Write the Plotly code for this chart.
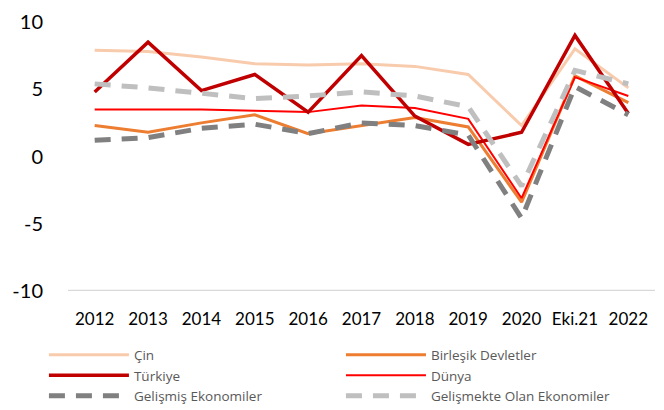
import plotly.graph_objects as go

# --- data ---
years = ["2012", "2013", "2014", "2015", "2016", "2017", "2018", "2019", "2020", "Eki.21", "2022"]

cin = [7.9, 7.8, 7.4, 6.9, 6.8, 6.9, 6.7, 6.1, 2.3, 8.0, 5.1]
abd = [2.3, 1.8, 2.5, 3.1, 1.7, 2.3, 2.9, 2.2, -3.4, 6.0, 4.0]
turkiye = [4.8, 8.5, 4.9, 6.1, 3.3, 7.5, 3.0, 0.9, 1.8, 9.0, 3.2]
dunya = [3.5, 3.5, 3.5, 3.4, 3.3, 3.8, 3.6, 2.8, -3.1, 5.9, 4.5]
gelismis = [1.2, 1.4, 2.1, 2.4, 1.7, 2.5, 2.3, 1.6, -4.6, 5.2, 3.1]
gelismekte = [5.4, 5.1, 4.7, 4.3, 4.5, 4.8, 4.5, 3.7, -2.2, 6.4, 5.4]

y_ticks = [-10, -5, 0, 5, 10]
y_labels = ["-10", "-5", "0", "5", "10"]

series = [
    # name, values, colour, width, dash, legend column, rank
    ("Çin", cin, "#F8CBAD", 3, "solid", "legend", 1),
    ("Birleşik Devletler", abd, "#ED7D31", 3, "solid", "legend2", 1),
    ("Dünya", dunya, "#FF0000", 2, "solid", "legend2", 2),
    ("Türkiye", turkiye, "#C00000", 3.5, "solid", "legend", 2),
    ("Gelişmiş Ekonomiler", gelismis, "#808080", 5, "16px,11px", "legend", 3),
    ("Gelişmekte Olan Ekonomiler", gelismekte, "#BFBFBF", 5, "16px,11px", "legend2", 3),
]

fig = go.Figure()
for name, vals, color, width, dash, leg, rank in series:
    fig.add_trace(go.Scatter(
        x=years, y=vals, name=name, mode="lines",
        line=dict(color=color, width=width, dash=dash),
        legend=leg, legendrank=rank,
    ))

fig.update_xaxes(
    type="category", range=[-0.5, 10.5],
    showgrid=False, showline=False, zeroline=False,
    ticks="", ticklabelstandoff=16,
    tickfont=dict(family="Lato", size=17, color="#000000"),
)
fig.update_yaxes(
    range=[-10, 10], tickvals=y_ticks, ticktext=y_labels,
    showgrid=False, zeroline=False, showline=False,
    ticks="", ticklabelstandoff=24, ticklabeloverflow="allow",
    tickfont=dict(family="Lato", size=20, color="#000000"),
)
# bottom axis line at -10
fig.add_hline(y=-10, line=dict(color="#D9D9D9", width=2.5))

leg_style = dict(
    orientation="v", xanchor="left", y=-0.18, yanchor="top",
    font=dict(family="Open Sans", size=13.5, color="#595959"),
    itemwidth=80, tracegroupgap=0,
    bgcolor="rgba(0,0,0,0)",
)

fig.update_layout(
    width=664, height=410,
    margin=dict(l=60, r=17, t=14, b=127, autoexpand=False),
    plot_bgcolor="white", paper_bgcolor="white",
    showlegend=True,
    legend=dict(x=-0.041, **leg_style),
    legend2=dict(x=0.465, **leg_style),
)

fig.write_html("out.html")
